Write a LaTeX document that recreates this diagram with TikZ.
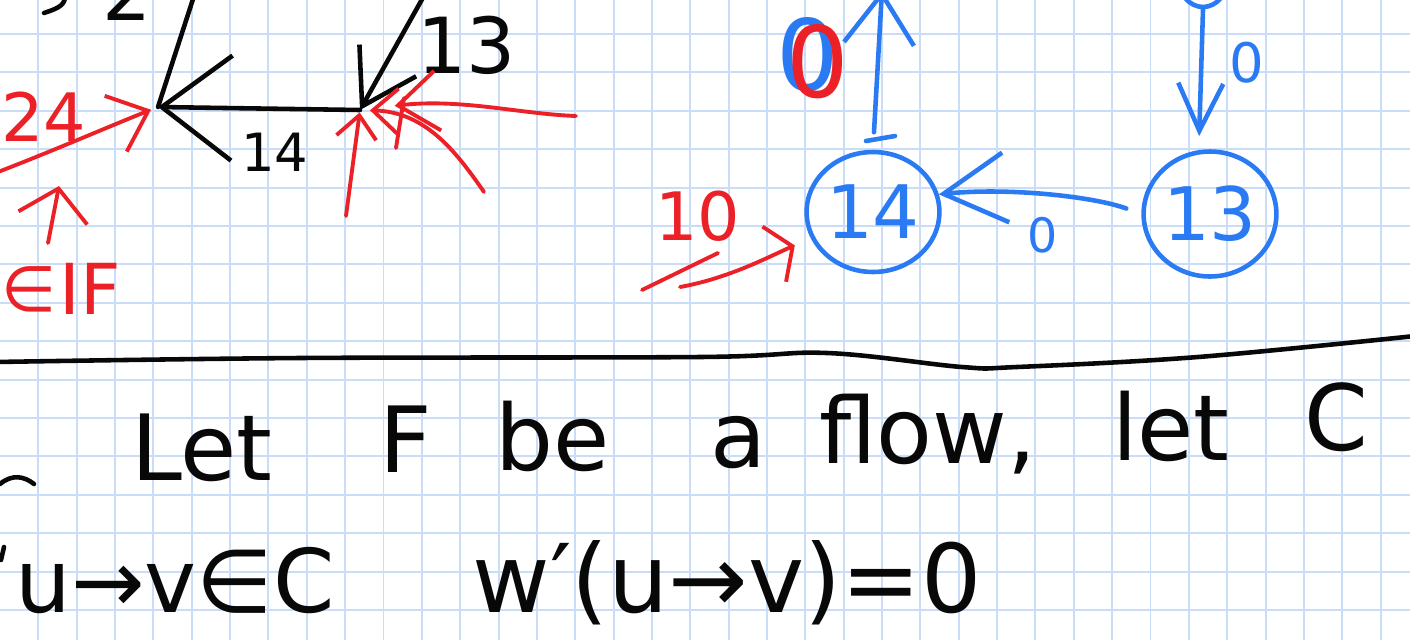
\documentclass[tikz,border=0pt]{standalone}
\usepackage{fontspec}
\setmainfont{DejaVu Sans}
\usepackage{tikz}
\usetikzlibrary{positioning,calc,arrows.meta,shapes.geometric}
\definecolor{gridblue}{HTML}{C9DCF8}
\definecolor{penblue}{HTML}{2A7AF3}
\definecolor{penred}{HTML}{EC2027}
\definecolor{penblack}{HTML}{080808}

\begin{document}
\begin{tikzpicture}[x=0.02cm, y=-0.02cm,
  gridln/.style ={draw=gridblue, line width=1.1pt},
  kpen/.style   ={draw=penblack, line width=2.6pt, line cap=round, line join=round},
  rpen/.style   ={draw=penred,   line width=2.2pt, line cap=round, line join=round},
  bpen/.style   ={draw=penblue,  line width=2.6pt, line cap=round, line join=round},
  ktxt/.style   ={text=penblack, inner sep=0pt},
  rtxt/.style   ={text=penred,   inner sep=0pt},
  btxt/.style   ={text=penblue,  inner sep=0pt},
  fsz/.style    ={font=\fontsize{#1}{#1}\selectfont},
  bnode/.style  ={ellipse, draw=penblue, line width=2.6pt, text=penblue, inner sep=0pt, fsz=42pt},
]
% page and grid paper (1 unit = 1px of the scan)
\useasboundingbox (0,0) rectangle (1410,640);
\clip (0,0) rectangle (1410,640);
\fill[white] (0,0) rectangle (1410,640);
\foreach \i in {1,...,36} \draw[gridln] ({38.35*\i},0) -- ({38.35*\i},640);
\foreach \j in {0,...,15} \draw[gridln] (0,{34+38.4*\j}) -- (1410,{34+38.4*\j});

% black sketch, top left
\coordinate (vA) at (158,107);
\coordinate (vB) at (360,110);
\coordinate (kA) at (194,-4);
\coordinate (kB) at (425,-6);
\draw[kpen] (vA) -- (kA);
\draw[kpen, -{Straight Barb[length=1.4cm, width=2.1cm]}] (vB) -- (vA);
\draw[kpen, -{Straight Barb[length=1.05cm, width=1.3cm]}] (kB) -- (vB);
\draw[kpen] (44,13) .. controls (56,9) and (64,6) .. (65,-2);
\node[ktxt, fsz=44pt, anchor=south] (k2) at (127,21) {2};
\node[ktxt, fsz=30pt] (k14) at (275,152) {14};
\node[ktxt, fsz=44pt] (k13) at (467,45) {13};

% red arrows into the black vertices
\coordinate (r24s) at (-2,172);
\draw[rpen, -{Straight Barb[length=0.7cm, width=1.2cm]}, shorten >=0.15cm] (r24s) .. controls (60,148) and (110,126) .. (vA);
\node[rtxt, fsz=38pt, anchor=west] (r24) at (1,117) {24};
\coordinate (rUs) at (48,243);
\coordinate (rUt) at (59,186);
\draw[rpen, -{Straight Barb[length=0.6cm, width=1.4cm]}] (rUs) -- (rUt);
\node[rtxt, fsz=36pt, anchor=west] (rIn) at (1,289) {∈};
\node[rtxt, fsz=40pt] (rIF) at (90,289) {IF};
\coordinate (rB1) at (576,116);
\coordinate (rB2) at (346,216);
\coordinate (rB3) at (396,148);
\coordinate (rB4) at (484,192);
\draw[rpen, -{Straight Barb[length=0.8cm, width=1.2cm]}, shorten >=0.7cm] (rB1) .. controls (520,114) and (460,98) .. (vB);
\draw[rpen, -{Straight Barb[length=0.45cm, width=0.8cm]}, shorten >=0.05cm] (rB2) -- (vB);
\draw[rpen] (rB3) -- (404,98);
\draw[rpen, -{Straight Barb[length=0.5cm, width=0.9cm]}, shorten >=0.2cm] (rB4) .. controls (455,150) and (425,112) .. (vB);

% blue graph, top right
\node[bnode, minimum width=2.2cm, minimum height=2.4cm] (n14) at (873,212) {14};
\node[bnode, minimum width=2.08cm, minimum height=2.5cm] (n13) at (1210,214) {13};
\node[bnode, minimum width=1.0cm, minimum height=1.2cm] (nTop) at (1203,-23) {};
\coordinate (up14) at (882,-10);
\draw[bpen, -{Straight Barb[length=1.0cm, width=1.4cm]}, shorten <=0.35cm] (n14.north) -- (up14);
\draw[bpen, -{Straight Barb[length=0.95cm, width=0.9cm]}, shorten >=0.28cm] (nTop.south) -- (n13.100);
\draw[bpen, -{Straight Barb[length=1.25cm, width=1.4cm]}, shorten <=0.32cm] (n13.west) .. controls (1095,197) and (1010,187) .. (n14.15);
\draw[bpen] (866,141) -- (895,136);
\node[btxt, fsz=56pt] (b0a) at (808,55) {0};
\node[rtxt, fsz=56pt] (r0a) at (818,62) {0};
\node[btxt, fsz=31pt] (b0b) at (1247,63) {0};
\node[btxt, fsz=27pt] (b0c) at (1043,235) {0};
% red arrow into 14
\coordinate (r10s) at (680,287);
\draw[rpen] (642,290) -- (718,253);
\draw[rpen, -{Straight Barb[length=0.4cm, width=1.2cm]}, shorten >=0.35cm] (r10s) .. controls (730,278) and (770,256) .. (n14);
\node[rtxt, fsz=38pt] (r10) at (698,216) {10};

% separator
\draw[kpen] plot[smooth, tension=0.6] coordinates {(-5,362) (300,358) (700,357) (827,353) (962,367) (1017,367) (1198,357) (1415,336)};

% handwritten line 1
\draw[kpen] (0,484) .. controls (12,474) and (24,476) .. (34,484);
\node[ktxt, fsz=52pt, anchor=base] (wLet) at (202,480) {Let};
\node[ktxt, fsz=52pt, anchor=base] (wF) at (406,472) {F};
\node[ktxt, fsz=52pt, anchor=base] (wBe) at (553,470) {be};
\node[ktxt, fsz=52pt, anchor=base] (wA) at (738,467) {a};
\node[ktxt, fsz=52pt, anchor=base] (wFlow) at (928,463) {flow,};
\node[ktxt, fsz=52pt, anchor=base] (wLet2) at (1171,460) {let};
\node[ktxt, fsz=52pt, anchor=base] (wC) at (1336,450) {C};
% handwritten line 2
\draw[kpen] (1,560) -- (4,547);
\node[ktxt, fsz=50pt, anchor=base] (eq1) at (175,612) {u→v∈C};
\node[ktxt, fsz=54pt, anchor=base] (eq2) at (727,612) {w′(u→v)=0};
\end{tikzpicture}
\end{document}
